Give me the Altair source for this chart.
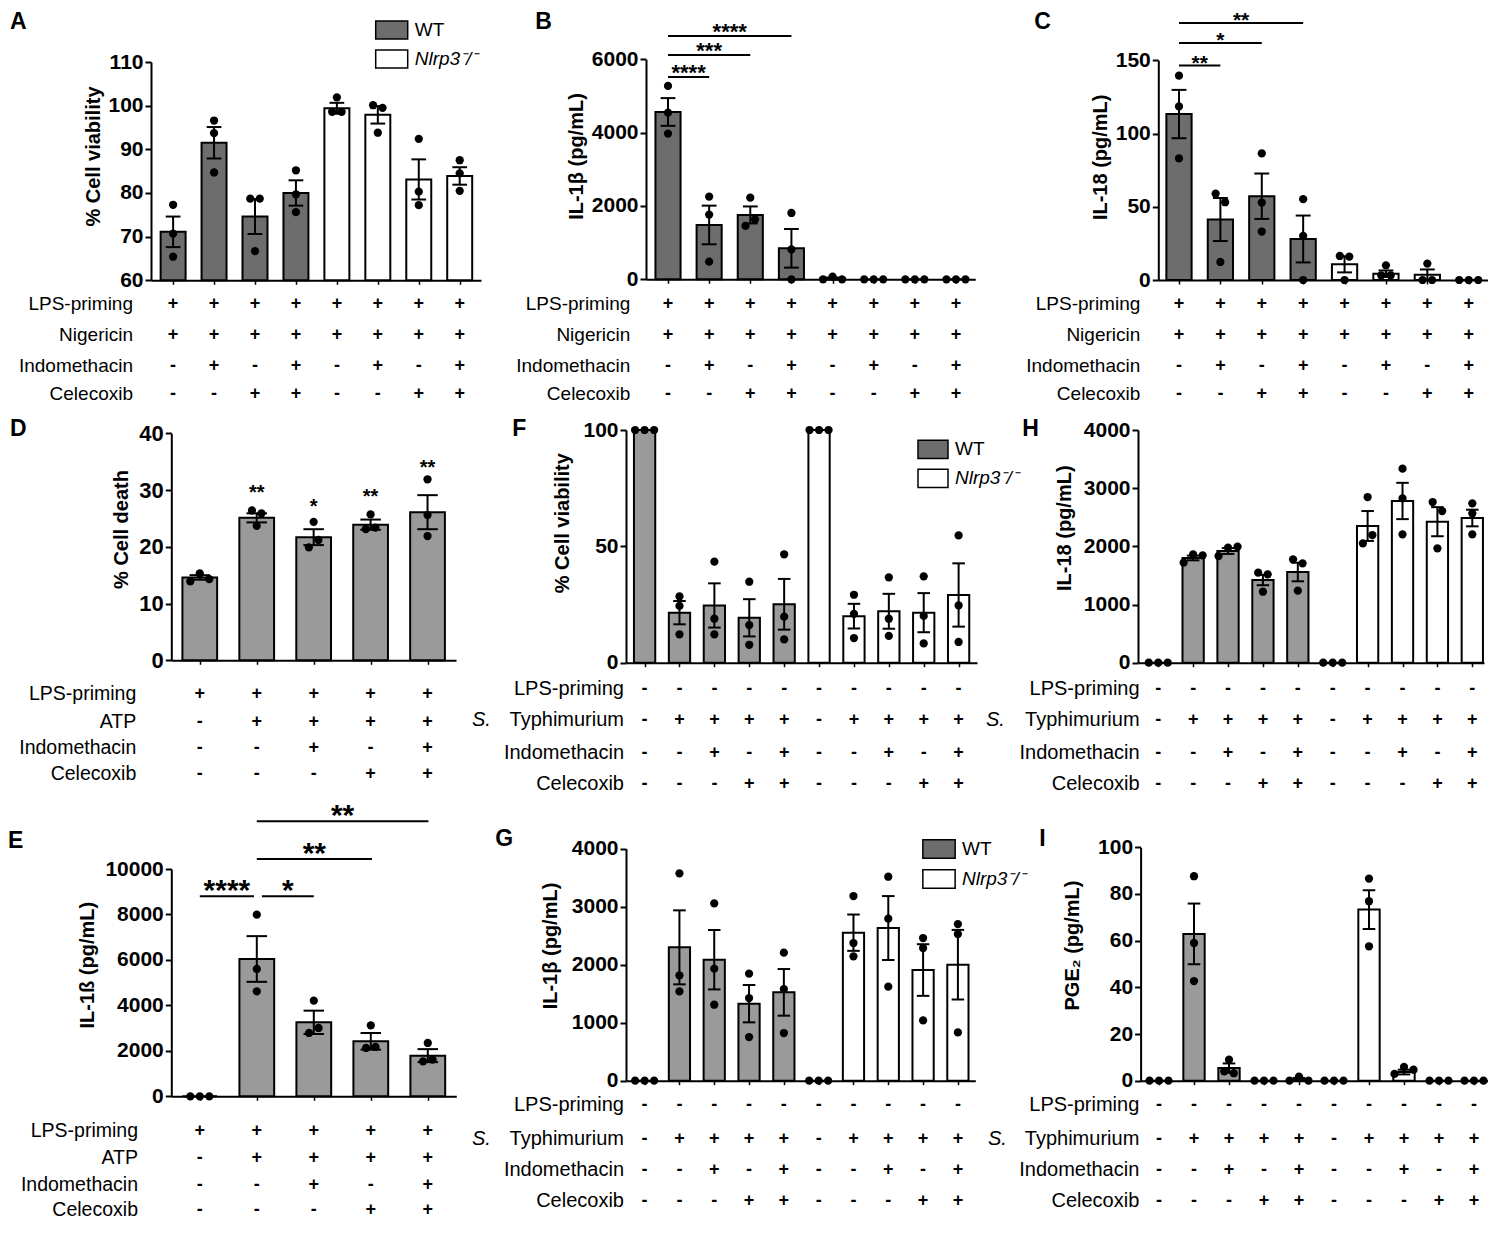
import altair as alt
import pandas as pd

FONT = "Liberation Sans"
DARK = "#6d6d6d"
LIGHT = "#9a9a9a"
KO_LABEL = "Nlrp3⁻/⁻"

# ---------------- table rows / treatments ----------------
ROWS_NIG = ["LPS-priming", "Nigericin", "Indomethacin", "Celecoxib"]
ROWS_ATP = ["LPS-priming", "ATP", "Indomethacin", "Celecoxib"]
ROWS_ST = ["LPS-priming", "Typhimurium", "Indomethacin", "Celecoxib"]

SIGNS_NIG = ["++++++++", "++++++++", "-+-+-+-+", "--++--++"]
SIGNS_ATP = ["+++++", "-++++", "--+-+", "---++"]
SIGNS_ST = ["----------", "-++++-++++", "--+-+--+-+", "---++---++"]

GENO_8 = ["WT"] * 4 + ["KO"] * 4
GENO_5 = ["WT"] * 5
GENO_10 = ["WT"] * 5 + ["KO"] * 5

# ---------------- panel A ----------------
A_MEAN = [71.1, 91.5, 74.6, 80.0, 99.4, 97.9, 83.1, 83.9]
A_SEM = [3.5, 3.6, 4.0, 2.9, 1.25, 2.0, 4.6, 2.0]
A_DOTS = [[77.3, 70.7, 65.4], [96.6, 93.7, 84.7], [78.7, 78.7, 66.7], [85.2, 79.7, 75.6],
          [101.9, 98.6, 98.6], [100.1, 99.5, 93.8], [92.4, 80.3, 77.2], [87.5, 84.5, 80.5]]

# ---------------- panel B ----------------
B_MEAN = [4564, 1482, 1755, 845, 24, 0, 0, 0]
B_SEM = [378, 527, 232, 527, 24, 0, 0, 0]
B_DOTS = [[5273, 4545, 3973], [2255, 1764, 482], [2227, 1455, 1636], [1809, 818, 0],
          [0, 73, 0], [0, 0, 0], [0, 0, 0], [0, 0, 0]]
B_BR_X1 = [0, 0, 0]
B_BR_X2 = [1, 2, 3]
B_BR_Y = [5517, 6117, 6635]
B_BR_T = ["****", "***", "****"]

# ---------------- panel C ----------------
C_MEAN = [113.3, 41.3, 57.2, 28.0, 10.7, 4.3, 3.6, 0]
C_SEM = [16.5, 14.7, 15.5, 16.0, 5.5, 2.2, 3.6, 0]
C_DOTS = [[139.5, 118.5, 83.0], [59.0, 53.1, 12.3], [86.4, 52.9, 33.1], [55.2, 30.1, 0],
          [16.4, 16.0, 0], [10.0, 3.2, 3.2], [11.2, 0, 0], [0, 0, 0]]
C_BR_X1 = [0, 0, 0]
C_BR_X2 = [1, 2, 3]
C_BR_Y = [146.4, 161.8, 175.4]
C_BR_T = ["**", "*", "**"]

# ---------------- panel D ----------------
D_MEAN = [14.6, 25.1, 21.7, 23.9, 26.1]
D_SEM = [0.4, 0.8, 1.4, 0.9, 3.0]
D_DOTS = [[13.9, 15.3, 14.3], [26.4, 25.9, 23.7], [24.4, 19.9, 21.2], [25.7, 23.1, 23.4],
          [31.9, 25.6, 21.9]]
D_STAR_I = [1, 2, 3, 4]
D_STAR_Y = [30.4, 27.9, 29.8, 34.9]
D_STAR_T = ["**", "*", "**", "**"]

# ---------------- panel E ----------------
E_MEAN = [0, 6041, 3255, 2419, 1789]
E_SEM = [0, 1005, 513, 367, 286]
E_DOTS = [[0, 0, 0], [7991, 5601, 4619], [4208, 2786, 3006], [3123, 2126, 2170],
          [2346, 1540, 1613]]
E_BR_X1 = [0.0, 1.09, 1.0, 1.0]
E_BR_X2 = [0.95, 2.0, 3.02, 4.01]
E_BR_Y = [8799, 8799, 10440, 12099]
E_BR_T = ["****", "*", "**", "**"]

# ---------------- panel F ----------------
F_MEAN = [100, 21.5, 24.6, 19.3, 25.1, 100, 20.0, 22.1, 21.5, 29.1]
F_SEM = [0, 5.0, 9.5, 8.0, 10.9, 0, 5.3, 7.5, 8.4, 13.6]
F_DOTS = [[100, 100, 100], [28.5, 24.4, 12.2], [43.4, 18.9, 12.2], [34.8, 16.2, 7.7],
          [46.6, 19.8, 10.0], [100, 100, 100], [29.2, 21.0, 10.6], [36.7, 18.9, 11.5],
          [37.1, 20.1, 8.3], [54.7, 24.6, 8.9]]

# ---------------- panel G ----------------
G_MEAN = [0, 2299, 2086, 1328, 1523, 0, 2552, 2632, 1908, 2000]
G_SEM = [0, 638, 512, 322, 402, 0, 313, 551, 445, 600]
G_DOTS = [[0, 0, 0], [3575, 1816, 1540], [3057, 1931, 1310], [1845, 1425, 753],
          [2207, 1580, 822], [0, 0, 0], [3184, 2374, 2144], [3517, 2793, 1621],
          [2460, 2287, 1040], [2701, 2529, 833]]

# ---------------- panel H ----------------
H_MEAN = [0, 1800, 1920, 1421, 1559, 0, 2350, 2780, 2424, 2487]
H_SEM = [0, 40, 50, 89, 160, 0, 257, 312, 250, 143]
H_DOTS = [[0, 0, 0], [1719, 1862, 1845], [1834, 1977, 1994], [1547, 1519, 1220],
          [1777, 1708, 1238], [0, 0, 0], [2848, 2052, 2195], [3335, 2825, 2206],
          [2762, 2607, 1966], [2739, 2567, 2206]]

# ---------------- panel I ----------------
I_MEAN = [0, 62.9, 5.4, 0, 0.6, 0, 73.3, 3.7, 0, 0]
I_SEM = [0, 13.0, 2.0, 0, 0.6, 0, 8.3, 1.0, 0, 0]
I_DOTS = [[0, 0, 0], [87.6, 59.0, 42.7], [9.0, 4.0, 3.2], [0, 0, 0], [0, 1.7, 0],
          [0, 0, 0], [86.6, 76.9, 57.6], [2.9, 5.9, 4.7], [0, 0, 0], [0, 0, 0]]


def dot_offsets(vals, ppu, thr=9.2, spread=9.5):
    """Beeswarm-like horizontal offsets (pixels) for overlapping dots."""
    order = sorted(range(len(vals)), key=lambda k: vals[k])
    clusters, cur = [], [order[0]]
    for a, b in zip(order, order[1:]):
        if abs(vals[b] - vals[a]) * ppu < thr:
            cur.append(b)
        else:
            clusters.append(cur)
            cur = [b]
    clusters.append(cur)
    off = [0.0] * len(vals)
    for c in clusters:
        c = sorted(c)
        m = len(c)
        for j, k in enumerate(c):
            off[k] = (j - (m - 1) / 2) * spread
    return off


def build(P):
    n = len(P["mean"])
    x0, x1 = P["xdom"]
    step = P["pw"] / (x1 - x0)
    y0, y1 = P["ydom"]
    ppu = (P["ybot"] - P["ytop"]) / (y1 - y0)

    xs = alt.Scale(domain=[x0, x1], range=[P["ax"], P["ax"] + P["pw"]], nice=False, zero=False)
    ys = alt.Scale(domain=[y0, y1], range=[P["ybot"], P["ytop"]], nice=False, zero=False)
    rs = alt.Scale(domain=[0, 1, 2, 3], range=P["rowy"], nice=False, zero=False)

    xaxis = alt.Axis(values=list(range(n)), labels=False, ticks=True, tickSize=4, tickWidth=1.5,
                     tickColor="black", domain=True, domainWidth=2, domainColor="black",
                     grid=False, title=None, orient="bottom", offset=-(P["h"] - P["ybot"]))
    yaxis = alt.Axis(values=P["yticks"], format="d", orient="left", offset=-P["ax"], grid=False,
                     domainWidth=2, domainColor="black", tickWidth=2, tickSize=6,
                     tickColor="black", labelFontSize=P.get("lfs", 21), labelFontWeight="bold",
                     labelColor="black", labelPadding=2, title=P["ytitle"], titleFontSize=20,
                     titleFontWeight="bold", titleColor="black", titleX=-P["tdx"],
                     titleY=P["tcy"], titleBaseline="middle")

    def X(f):
        return alt.X(f, type="quantitative", scale=xs, axis=xaxis)

    def Y(f, sc=ys):
        return alt.Y(f, type="quantitative", scale=sc, axis=None)

    hw, cw = 0.305, 0.18
    bdf = pd.DataFrame({"i": list(range(n)), "m": P["mean"], "s": P["sem"], "g": P["geno"]})
    bdf["xa"] = bdf["i"] - hw
    bdf["xb"] = bdf["i"] + hw
    bdf["base"] = y0
    bdf["lo"] = bdf["m"] - bdf["s"]
    bdf["hi"] = bdf["m"] + bdf["s"]

    layers = []
    bars = alt.Chart(bdf).mark_rect(stroke="black", strokeWidth=2).encode(
        x=X("xa"), x2="xb:Q",
        y=alt.Y("m:Q", scale=ys, axis=yaxis), y2="base:Q",
        fill=alt.Fill("g:N", scale=alt.Scale(domain=["WT", "KO"], range=[P["wt"], "white"]),
                      legend=None))
    layers.append(bars)

    edf = bdf[bdf["s"] > 0].copy()
    err = alt.Chart(edf).mark_rule(color="black", strokeWidth=2).encode(
        x=X("i"), y=Y("lo"), y2="hi:Q")
    layers.append(err)

    caps = []
    for _, r in edf.iterrows():
        for yc in (r["lo"], r["hi"]):
            caps.append({"ca": r["i"] - cw, "cb": r["i"] + cw, "yc": yc})
    cdf = pd.DataFrame(caps)
    layers.append(alt.Chart(cdf).mark_rule(color="black", strokeWidth=2).encode(
        x=X("ca"), x2="cb:Q", y=Y("yc")))

    drows = []
    for i, vals in enumerate(P["dots"]):
        offs = dot_offsets(vals, ppu)
        for v, o in zip(vals, offs):
            drows.append({"xd": i + o / step, "v": v})
    ddf = pd.DataFrame(drows)
    layers.append(alt.Chart(ddf).mark_circle(size=68, color="black", opacity=1).encode(
        x=X("xd"), y=Y("v")))

    # brackets
    if "br_x1" in P:
        brdf = pd.DataFrame({"b1": P["br_x1"], "b2": P["br_x2"], "by": P["br_y"],
                             "bt": P["br_t"]})
        brdf["bm"] = (brdf["b1"] + brdf["b2"]) / 2
        layers.append(alt.Chart(brdf).mark_rule(color="black", strokeWidth=2).encode(
            x=X("b1"), x2="b2:Q", y=Y("by")))
        layers.append(alt.Chart(brdf).mark_text(
            fontSize=P["bfs"], fontWeight="bold", baseline="alphabetic", align="center",
            dy=P["bdy"], color="black").encode(x=X("bm"), y=Y("by"), text="bt:N"))

    # stars above bars
    if "star_i" in P:
        sdf = pd.DataFrame({"si": P["star_i"], "sy": P["star_y"], "st": P["star_t"]})
        layers.append(alt.Chart(sdf).mark_text(
            fontSize=20, fontWeight="bold", baseline="alphabetic", align="center", dy=11.4,
            color="black").encode(x=X("si"), y=Y("sy"), text="st:N"))

    # treatment table
    trows = []
    for r, srow in enumerate(P["signs"]):
        for i, ch in enumerate(srow):
            trows.append({"ti": i, "tr": r, "ts": ch})
    tdf = pd.DataFrame(trows)
    layers.append(alt.Chart(tdf).mark_text(
        fontSize=18, fontWeight="bold", baseline="middle", align="center", color="black").encode(
        x=X("ti"), y=Y("tr", rs), text="ts:N"))

    ldf = pd.DataFrame({"lr": [0, 1, 2, 3], "lt": P["rows"]})
    layers.append(alt.Chart(ldf).mark_text(
        fontSize=P["rfs"], baseline="middle", align="right", color="black").encode(
        x=alt.value(P["lx"]), y=Y("lr", rs), text="lt:N"))

    if P.get("sx") is not None:
        sdf2 = pd.DataFrame({"lr": [1], "lt": ["S."]})
        layers.append(alt.Chart(sdf2).mark_text(
            fontSize=P["rfs"], fontStyle="italic", baseline="middle", align="left",
            color="black").encode(x=alt.value(P["sx"]), y=Y("lr", rs), text="lt:N"))

    letdf = pd.DataFrame({"L": [P["letter"]]})
    layers.append(alt.Chart(letdf).mark_text(
        fontSize=23, fontWeight="bold", align="left", baseline="alphabetic",
        color="black").encode(x=alt.value(P["letx"]), y=alt.value(P["lety"]), text="L:N"))

    if "leg" in P:
        lg = P["leg"]
        r = lg["ratio"]
        path = f"M-1,-{r}H1V{r}H-1Z"
        gdf = pd.DataFrame({"gg": ["WT", KO_LABEL]})
        layers.append(alt.Chart(gdf).mark_rect(stroke="black", strokeWidth=1.5).encode(
            x=alt.value(P["ax"]), x2=alt.value(P["ax"]),
            y=alt.value(P["ybot"]), y2=alt.value(P["ybot"]),
            fill=alt.Fill("gg:N", scale=alt.Scale(domain=["WT", KO_LABEL], range=[DARK, "white"]),
                          legend=alt.Legend(
                              orient="none", legendX=lg["x"], legendY=lg["y"], title=None,
                              symbolType=path, symbolSize=lg["size"],
                              symbolStrokeColor="black", symbolStrokeWidth=1.5,
                              labelFontSize=19, labelColor="black", labelOffset=6,
                              rowPadding=lg["rp"], padding=0, direction="vertical",
                              labelFontStyle=alt.ExprRef(
                                  expr="datum.label === 'WT' ? 'normal' : 'italic'")))))

    return alt.layer(*layers).resolve_scale(y="independent", fill="independent").properties(
        width=P["w"], height=P["h"])


W1, W2, W3 = 474.7, 512, 350
H1, H2, H3 = 383, 392, 430

PA = dict(mean=A_MEAN, sem=A_SEM, dots=A_DOTS, geno=GENO_8, xdom=[-0.54, 7.52], ax=0, pw=330,
          ydom=[60, 110], ytop=49, ybot=267.3, yticks=[60, 70, 80, 90, 100, 110],
          ytitle="% Cell viability", tdx=58, tcy=143, rowy=[291.3, 322.3, 353, 380.7], lx=-18,
          rows=ROWS_NIG, signs=SIGNS_NIG, rfs=19, letter="A", letx=-141, lety=16, wt=DARK,
          w=W1, h=H1, leg=dict(x=223.7, y=0, size=1024, ratio=0.5625, rp=-3.5))
PB = dict(mean=B_MEAN, sem=B_SEM, dots=B_DOTS, geno=GENO_8, xdom=[-0.535, 7.47], ax=20,
          pw=329.3, ydom=[0, 6000], ytop=46.3, ybot=266.3, yticks=[0, 2000, 4000, 6000],
          ytitle="IL-1β (pg/mL)", tdx=69.7, tcy=143, rowy=[291.3, 322.3, 353, 380.7], lx=4.3,
          rows=ROWS_NIG, signs=SIGNS_NIG, rfs=19, letter="B", letx=-90.7, lety=16, wt=DARK,
          w=W2, h=H1, br_x1=B_BR_X1, br_x2=B_BR_X2, br_y=B_BR_Y, br_t=B_BR_T, bfs=22, bdy=3)
PC = dict(mean=C_MEAN, sem=C_SEM, dots=C_DOTS, geno=GENO_8, xdom=[-0.5, 7.49], ax=20.3,
          pw=330.7, ydom=[0, 150], ytop=47.3, ybot=267, yticks=[0, 50, 100, 150],
          ytitle="IL-18 (pg/mL)", tdx=58, tcy=143.8, rowy=[291.3, 322.3, 353, 380.7], lx=2.3,
          rows=ROWS_NIG, signs=SIGNS_NIG, rfs=19, letter="C", letx=-103.7, lety=16, wt=DARK,
          w=W3, h=H1, br_x1=C_BR_X1, br_x2=C_BR_X2, br_y=C_BR_Y, br_t=C_BR_T, bfs=21, bdy=4.3)
PD = dict(mean=D_MEAN, sem=D_SEM, dots=D_DOTS, geno=GENO_5, xdom=[-0.5, 4.5], ax=20.3,
          pw=284.7, ydom=[0, 40], ytop=37.3, ybot=264.3, yticks=[0, 10, 20, 30, 40],
          ytitle="% Cell death", tdx=50, tcy=133, rowy=[298.3, 325.7, 352.3, 378.3], lx=-14.7,
          rows=ROWS_ATP, signs=SIGNS_ATP, rfs=19.5, letter="D", letx=-141, lety=40, wt=LIGHT,
          w=W1, h=H2, star_i=D_STAR_I, star_y=D_STAR_Y, star_t=D_STAR_T, lfs=22)
PF = dict(mean=F_MEAN, sem=F_SEM, dots=F_DOTS, geno=GENO_10, xdom=[-0.533, 9.527], ax=0,
          pw=351, ydom=[0, 100], ytop=34, ybot=266.7, yticks=[0, 50, 100],
          ytitle="% Cell viability", tdx=64, tcy=126.7, rowy=[292.7, 324, 357.3, 388], lx=-2,
          rows=ROWS_ST, signs=SIGNS_ST, rfs=20, sx=-154, letter="F", letx=-113.7, lety=40,
          wt=LIGHT, w=W2, h=H2, leg=dict(x=291, y=37.3, size=900, ratio=0.61, rp=-1.6))
PH = dict(mean=H_MEAN, sem=H_SEM, dots=H_DOTS, geno=GENO_10, xdom=[-0.58, 9.335], ax=0,
          pw=346, ydom=[0, 4000], ytop=34, ybot=266.7, yticks=[0, 1000, 2000, 3000, 4000],
          ytitle="IL-18 (pg/mL)", tdx=74, tcy=131.7, rowy=[292.7, 324, 357.3, 388], lx=1.6,
          rows=ROWS_ST, signs=SIGNS_ST, rfs=20, sx=-152, letter="H", letx=-115.7, lety=40,
          wt=LIGHT, w=W3, h=H2)
PE = dict(mean=E_MEAN, sem=E_SEM, dots=E_DOTS, geno=GENO_5, xdom=[-0.5, 4.5], ax=20.3,
          pw=285, ydom=[0, 10000], ytop=81, ybot=308.3,
          yticks=[0, 2000, 4000, 6000, 8000, 10000], ytitle="IL-1ß (pg/mL)", tdx=84,
          tcy=176.7, rowy=[342.7, 370, 396.7, 421.7], lx=-13, rows=ROWS_ATP, signs=SIGNS_ATP,
          rfs=19.5, letter="E", letx=-143, lety=60, wt=LIGHT, w=W1, h=H3,
          br_x1=E_BR_X1, br_x2=E_BR_X2, br_y=E_BR_Y, br_t=E_BR_T, bfs=30, bdy=3.8)
PG = dict(mean=G_MEAN, sem=G_SEM, dots=G_DOTS, geno=GENO_10, xdom=[-0.535, 9.5], ax=0,
          pw=349.3, ydom=[0, 4000], ytop=60.7, ybot=292.7, yticks=[0, 1000, 2000, 3000, 4000],
          ytitle="IL-1β (pg/mL)", tdx=75.7, tcy=157.5, rowy=[316.7, 350.7, 382.3, 413.3],
          lx=-2, rows=ROWS_ST, signs=SIGNS_ST, rfs=20, sx=-154, letter="G", letx=-130.7,
          lety=58, wt=LIGHT, w=W2, h=H3, leg=dict(x=296, y=44, size=1043, ratio=0.57, rp=-3.7))
PI = dict(mean=I_MEAN, sem=I_SEM, dots=I_DOTS, geno=GENO_10, xdom=[-0.526, 9.466], ax=2.6,
          pw=349.7, ydom=[0, 100], ytop=59.3, ybot=292.7, yticks=[0, 20, 40, 60, 80, 100],
          ytitle="PGE₂ (pg/mL)", tdx=68, tcy=157, rowy=[316.7, 350.7, 382.3, 413.3], lx=1.3,
          rows=ROWS_ST, signs=SIGNS_ST, rfs=20, sx=-150, letter="I", letx=-98.7, lety=58,
          wt=LIGHT, w=W3, h=H3)

panels = [build(p) for p in (PA, PB, PC, PD, PF, PH, PE, PG, PI)]

chart = alt.concat(*panels, columns=3, spacing=0, bounds="flush").resolve_scale(
    x="independent", y="independent", fill="independent").resolve_legend(
    fill="independent").properties(
    padding={"left": 0, "top": 2, "right": 0, "bottom": 0}).configure_view(
    strokeWidth=0).configure_axis(labelFont=FONT, titleFont=FONT).configure_text(
    font=FONT).configure_legend(labelFont=FONT)

chart.save("out.html", embed_options={"renderer": "svg", "actions": False})
